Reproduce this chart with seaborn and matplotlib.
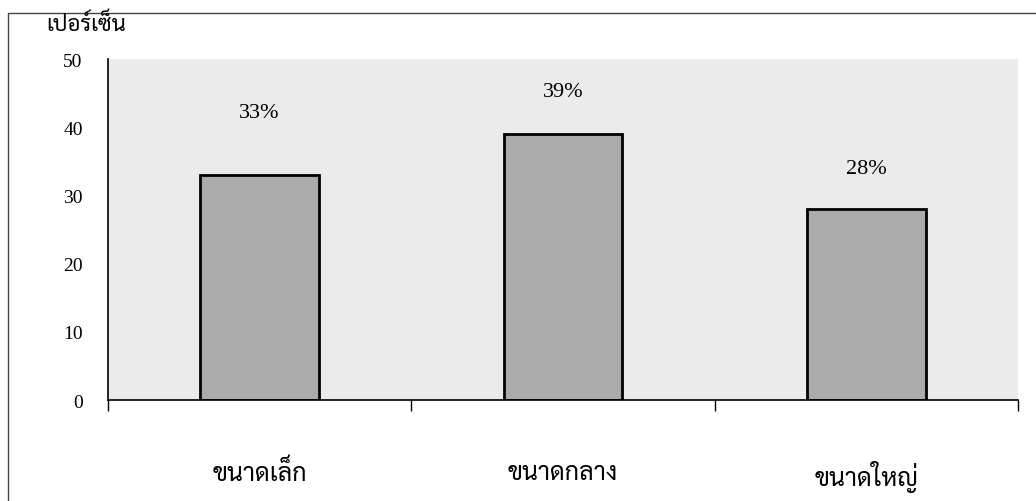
import matplotlib
matplotlib.use("Agg")
import matplotlib.pyplot as plt
import seaborn as sns
import pandas as pd
from matplotlib.patches import Rectangle
from matplotlib.ticker import FixedLocator

categories = ["ขนาดเล็ก", "ขนาดกลาง", "ขนาดใหญ่"]
values = [33, 39, 28]
value_labels = ["33%", "39%", "28%"]
label_heights = [42.2, 45.2, 34.0]
y_ticks = [0, 10, 20, 30, 40, 50]
y_title = "เปอร์เซ็น"

THAI = ['Sarabun', 'Noto Sans Thai', 'Liberation Serif', 'DejaVu Sans']

sns.set_theme(style="white")
plt.rcParams['font.family'] = ['Liberation Serif', 'DejaVu Sans']

df = pd.DataFrame({"cat": categories, "val": values})

fig = plt.figure(figsize=(10.36, 5.02), dpi=100)
fig.patch.set_facecolor("white")
ax = fig.add_axes([0.104, 0.201, 0.879, 0.679])
ax.set_facecolor("#ebebeb")

sns.barplot(data=df, x="cat", y="val", ax=ax, color="#ababab", saturation=1,
            width=0.39, edgecolor="black", linewidth=2)

ax.set_xlim(-0.5, 2.5)
ax.set_ylim(0, 50)
ax.set_yticks(y_ticks)
ax.tick_params(axis="y", direction="out", length=8, width=1, color="black",
               labelsize=14, pad=10, labelcolor="black")
ax.tick_params(axis="x", which="major", length=0, labelsize=18, pad=43,
               labelcolor="black")
ax.xaxis.set_minor_locator(FixedLocator([-0.5, 0.5, 1.5, 2.5]))
ax.tick_params(axis="x", which="minor", direction="out", length=8, width=1,
               color="black", bottom=True)
ax.set_xlabel("")
ax.set_ylabel("")
for lab in ax.get_xticklabels():
    lab.set_family(THAI)
    lab.set_fontweight("normal")

for s in ["top", "right"]:
    ax.spines[s].set_visible(False)
for s in ["left", "bottom"]:
    ax.spines[s].set_color("black")
    ax.spines[s].set_linewidth(1.2)

for i, (t, h) in enumerate(zip(value_labels, label_heights)):
    ax.text(i, h, t, ha="center", va="center", fontsize=16, color="black")

fig.text(0.045, 0.95, y_title, ha="left", va="center", fontsize=16,
         family=THAI, fontweight="normal", color="black")

fig.add_artist(Rectangle((0.008, -0.01), 1.0, 0.982, transform=fig.transFigure,
                         fill=False, edgecolor="#444444", linewidth=1))

fig.savefig("out.png", dpi=100)
